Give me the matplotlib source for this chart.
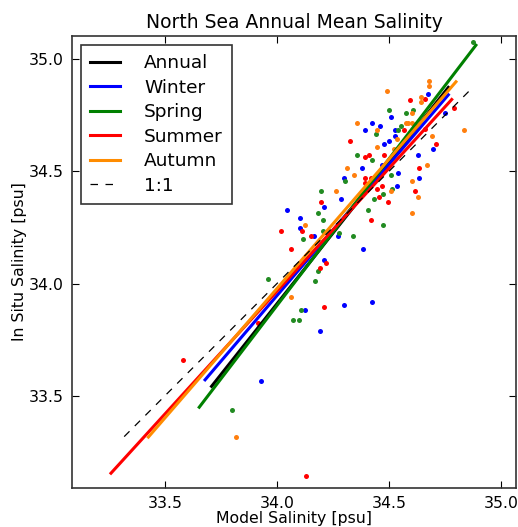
import matplotlib
matplotlib.use("Agg")
from matplotlib import pyplot as plt

# scatter data (model, in situ) per season
winter_x = [34.674, 34.507, 34.425, 34.460, 34.393, 34.527, 34.527, 34.479, 34.500, 34.695,
            34.628, 34.379, 34.467, 34.541, 34.297, 34.634, 34.534, 34.211, 34.286, 34.043,
            34.103, 34.103, 34.165, 34.271, 34.385, 34.210, 34.748, 34.124, 34.299, 34.192,
            34.426, 33.929]
winter_y = [34.845, 34.740, 34.717, 34.704, 34.682, 34.682, 34.658, 34.622, 34.634, 34.598,
            34.574, 34.516, 34.527, 34.491, 34.470, 34.470, 34.435, 34.341, 34.375, 34.329,
            34.293, 34.247, 34.211, 34.211, 34.152, 34.107, 34.762, 33.882, 33.906, 33.789,
            33.918, 33.566]

spring_x = [34.500, 34.574, 34.608, 34.555, 34.440, 34.540, 34.358, 34.425, 34.305, 34.507,
            34.513, 34.473, 34.433, 34.198, 34.184, 34.205, 34.406, 34.473, 34.117, 34.205,
            34.278, 34.339, 34.185, 34.170, 33.961, 34.109, 34.070, 34.097, 33.800, 34.876]
spring_y = [34.774, 34.762, 34.774, 34.704, 34.668, 34.682, 34.574, 34.552, 34.457, 34.482,
            34.423, 34.399, 34.375, 34.411, 34.315, 34.281, 34.329, 34.259, 34.199, 34.235,
            34.223, 34.211, 34.058, 34.010, 34.022, 33.882, 33.836, 33.836, 33.438, 35.077]

summer_x = [34.594, 34.662, 34.790, 34.567, 34.326, 34.708, 34.393, 34.412, 34.479, 34.635,
            34.393, 34.393, 34.419, 34.446, 34.467, 34.614, 34.454, 34.494, 34.198, 34.419,
            34.110, 34.016, 34.150, 34.064, 34.219, 34.192, 34.211, 33.917, 33.579, 34.131,
            34.661]
summer_y = [34.820, 34.821, 34.784, 34.682, 34.634, 34.622, 34.563, 34.574, 34.574, 34.516,
            34.470, 34.446, 34.470, 34.423, 34.435, 34.411, 34.387, 34.363, 34.363, 34.281,
            34.235, 34.235, 34.211, 34.152, 34.092, 34.070, 33.894, 33.823, 33.661, 33.144,
            34.688]

autumn_x = [34.680, 34.680, 34.492, 34.641, 34.641, 34.601, 34.358, 34.574, 34.585, 34.601,
            34.446, 34.836, 34.534, 34.446, 34.521, 34.312, 34.668, 34.345, 34.601, 34.507,
            34.628, 34.265, 34.601, 34.125, 34.690, 34.063, 33.815]
autumn_y = [34.903, 34.878, 34.856, 34.833, 34.810, 34.762, 34.717, 34.717, 34.717, 34.714,
            34.682, 34.682, 34.646, 34.610, 34.598, 34.516, 34.527, 34.482, 34.457, 34.411,
            34.387, 34.411, 34.315, 34.259, 34.658, 33.941, 33.318]

# regression lines: Annual, Winter, Spring, Summer, Autumn
fit_names = ["Annual", "Winter", "Spring", "Summer", "Autumn"]
fit_x0 = [33.708, 33.679, 33.653, 33.259, 33.426]
fit_x1 = [34.765, 34.765, 34.888, 34.780, 34.799]
fit_y0 = [33.542, 33.571, 33.449, 33.155, 33.316]
fit_y1 = [34.874, 34.841, 35.062, 34.820, 34.899]

one_to_one = [33.318, 34.876]

line_cols = ["black", "blue", "green", "red", "darkorange"]
dot_cols = ["blue", "forestgreen", "red", "#ff7f0e"]

fig = plt.figure(figsize=(5.18, 5.27), dpi=100)
ax = fig.add_axes([72/518., 39/527., 444/518., 452/527.])

seasons = [(winter_x, winter_y), (spring_x, spring_y), (summer_x, summer_y), (autumn_x, autumn_y)]
for (sx, sy), c in zip(seasons, dot_cols):
    ax.plot(sx, sy, 'o', color=c, mec=c, ms=3.6, mew=0, zorder=2)

for i in range(len(fit_names)):
    ax.plot([fit_x0[i], fit_x1[i]], [fit_y0[i], fit_y1[i]], color=line_cols[i],
            lw=2.2, label=fit_names[i], zorder=3)

ax.plot(one_to_one, one_to_one, 'k--', lw=0.9, dashes=(6, 6), label="1:1", zorder=4)

ax.set_xlim(33.085, 35.067)
ax.set_ylim(33.089, 35.103)
ax.set_xticks([33.5, 34.0, 34.5, 35.0])
ax.set_yticks([33.5, 34.0, 34.5, 35.0])
ax.tick_params(direction='in', top=True, right=True, length=5, labelsize=11.3, pad=6)
for s in ax.spines.values():
    s.set_linewidth(1.2)
    s.set_color('#333333')

ax.set_title("North Sea Annual Mean Salinity", fontsize=13.5, pad=6)
ax.set_xlabel("Model Salinity [psu]", fontsize=11.3, labelpad=0)
ax.set_ylabel("In Situ Salinity [psu]", fontsize=11.3, labelpad=1)

leg = ax.legend(loc='upper left', fontsize=13.3, fancybox=False, framealpha=1,
                handlelength=1.6, handletextpad=1.3, borderpad=0.5, labelspacing=0.35,
                borderaxespad=0.5)
leg.get_frame().set_edgecolor('#333333')
leg.get_frame().set_linewidth(1.2)

plt.savefig("out.png", dpi=100)
